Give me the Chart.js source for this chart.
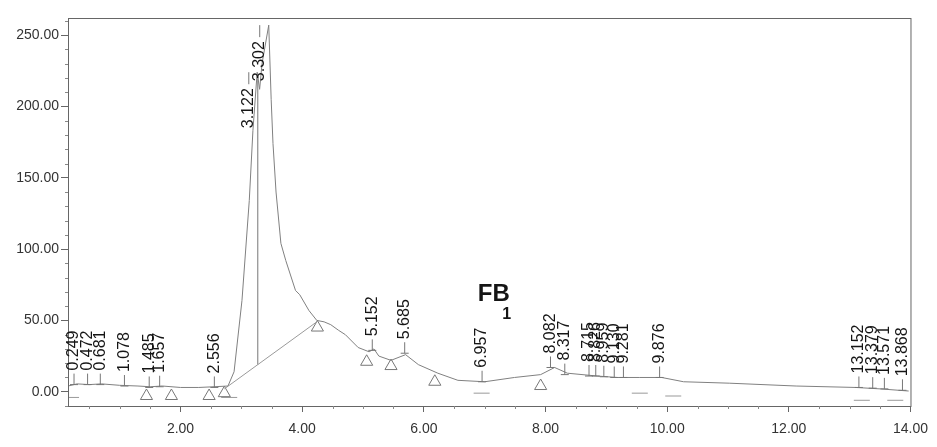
<!DOCTYPE html>
<html>
<head>
<meta charset="utf-8">
<script src="https://cdn.jsdelivr.net/npm/chart.js@4.4.1/dist/chart.umd.min.js"></script>
<style>
  body { margin: 0; background: #fff; }
  #wrap { width: 937px; height: 447px; }
</style>
</head>
<body>
<div id="wrap"><canvas id="myChart"></canvas></div>
<script>
// Chromatogram trace (minutes, signal)
var traceTime = [0.15, 0.3, 0.5, 0.7, 1.0, 1.3, 1.5, 1.7, 2.0, 2.3, 2.55, 2.78, 2.88, 3.01, 3.13, 3.19, 3.26, 3.30, 3.34, 3.45, 3.49, 3.52, 3.57, 3.65, 3.73, 3.89, 3.96, 4.11, 4.24, 4.36, 4.47, 4.60, 4.71, 4.92, 5.10, 5.18, 5.26, 5.46, 5.70, 5.91, 6.23, 6.56, 7.0, 7.49, 7.92, 8.15, 8.36, 8.85, 9.18, 9.55, 9.91, 10.27, 11.02, 12.12, 13.1, 13.5, 13.97];
var traceSignal = [4, 5.5, 5, 5.5, 4.5, 4, 3.5, 4, 3, 3, 3.5, 4, 14, 64, 134, 183, 224, 212, 230, 257, 205, 174, 140, 104, 92, 71, 68, 57, 50, 49, 47, 43, 40, 31, 28, 30, 25, 22, 26, 19, 13, 8, 7, 10, 12, 17, 13, 11, 10, 10, 10, 7, 6, 4, 3, 2, 0.5];

// Detected peaks
var peakTimes = [0.249, 0.472, 0.681, 1.078, 1.485, 1.657, 2.556, 3.122, 3.302, 5.152, 5.685, 6.957, 8.082, 8.317, 8.715, 8.826, 8.959, 9.130, 9.281, 9.876, 13.152, 13.379, 13.571, 13.868];
var peakHeights = [5, 5, 5, 4, 3, 3.5, 3, 224, 257, 29, 27, 7, 17, 12, 11, 11, 10.5, 10, 10, 10, 3, 2.5, 2, 1];

// Integration marks
var baselineTime = [2.72, 4.24];
var baselineSignal = [2, 49];
var dropTime = [3.27, 3.27];
var dropSignal = [19, 222];
var triangleTime = [1.44, 1.85, 2.47, 2.72, 4.25, 5.06, 5.46, 6.18, 7.92];
var triangleSignal = [-3, -3, -3, -1, 45, 21, 18, 7, 4];
var dashTime = [0.2, 2.8, 6.95, 9.55, 10.1, 13.2, 13.75];
var dashSignal = [-4, -4, -1, -1, -3, -6, -6];

var xTickValues = [2, 4, 6, 8, 10, 12, 14];
var yTickValues = [0, 50, 100, 150, 200, 250];

function pairs(xs, ys) {
    return xs.map(function (x, i) { return { x: x, y: ys[i] }; });
}

var FONT = '"Liberation Sans", Arial, sans-serif';

// Frame, minor ticks, peak labels
var decorations = {
    id: 'decorations',
    afterDatasetsDraw: function (chart) {
        var ctx = chart.ctx;
        var a = chart.chartArea;
        var xs = chart.scales.x, ys = chart.scales.y;
        ctx.save();
        ctx.strokeStyle = '#666';
        ctx.lineWidth = 1;
        ctx.strokeRect(a.left + 0.5, a.top + 0.5, a.right - a.left, a.bottom - a.top);

        // minor ticks
        ctx.strokeStyle = '#888';
        ctx.beginPath();
        for (var v = -10; v <= 260; v += 10) {
            if (v % 50 === 0) continue;
            var py = Math.round(ys.getPixelForValue(v)) + 0.5;
            ctx.moveTo(a.left - 3, py); ctx.lineTo(a.left, py);
        }
        for (var t = 0.5; t < 14; t += 0.5) {
            if (t % 2 === 0) continue;
            var px = Math.round(xs.getPixelForValue(t)) + 0.5;
            ctx.moveTo(px, a.bottom); ctx.lineTo(px, a.bottom + 3);
        }
        ctx.stroke();

        // peak labels: above the peak, or hanging below it when there is no room
        ctx.font = '16px ' + FONT;
        ctx.fillStyle = '#151515';
        ctx.strokeStyle = '#777';
        ctx.textBaseline = 'middle';
        ctx.textAlign = 'left';
        peakTimes.forEach(function (t, i) {
            var px = xs.getPixelForValue(t);
            var py = ys.getPixelForValue(peakHeights[i]);
            var label = t.toFixed(3);
            var w = ctx.measureText(label).width;
            var hang = py - 14 - w < a.top + 30;
            ctx.beginPath();
            if (peakHeights[i] < 60) {
                ctx.moveTo(px - 4, py); ctx.lineTo(px + 4, py);
            }
            ctx.moveTo(px, py);
            ctx.lineTo(px, hang ? py + 12 : py - 11);
            ctx.stroke();
            ctx.save();
            ctx.translate(px, hang ? py + 16 + w : py - 14);
            ctx.rotate(-Math.PI / 2);
            ctx.fillText(label, 0, 0);
            ctx.restore();
        });

        // FB annotation
        ctx.textAlign = 'center';
        ctx.font = 'bold 24px ' + FONT;
        ctx.fillText('FB', xs.getPixelForValue(7.15), ys.getPixelForValue(68.6));
        ctx.font = 'bold 16px ' + FONT;
        ctx.fillText('1', xs.getPixelForValue(7.36), ys.getPixelForValue(54));
        ctx.restore();
    }
};

var ctx = document.getElementById('myChart').getContext('2d');
var myChart = new Chart(ctx, {
    type: 'scatter',
    data: {
        datasets: [
            {
                label: 'Signal',
                data: pairs(traceTime, traceSignal),
                showLine: true,
                borderColor: '#808080',
                borderWidth: 1,
                pointRadius: 0,
                tension: 0
            },
            {
                label: 'Baseline',
                data: pairs(baselineTime, baselineSignal),
                showLine: true,
                borderColor: '#9a9a9a',
                borderWidth: 1,
                pointRadius: 0
            },
            {
                label: 'Drop',
                data: pairs(dropTime, dropSignal),
                showLine: true,
                borderColor: '#777',
                borderWidth: 1,
                pointRadius: 0
            },
            {
                label: 'Triangles',
                data: pairs(triangleTime, triangleSignal),
                pointStyle: 'triangle',
                pointRadius: 7,
                borderColor: '#777',
                borderWidth: 1,
                backgroundColor: 'rgba(0,0,0,0)'
            },
            {
                label: 'Dashes',
                data: pairs(dashTime, dashSignal),
                pointStyle: 'line',
                pointRadius: 8,
                borderColor: '#999',
                borderWidth: 1
            }
        ]
    },
    options: {
        responsive: true,
        maintainAspectRatio: false,
        animation: false,
        layout: { padding: { top: 18, right: 22, left: 0, bottom: 0 } },
        plugins: {
            legend: { display: false },
            tooltip: { enabled: false }
        },
        scales: {
            x: {
                type: 'linear',
                min: 0.15,
                max: 14,
                afterBuildTicks: function (scale) {
                    scale.ticks = xTickValues.map(function (v) { return { value: v }; });
                },
                afterFit: function (scale) { scale.height = 41; },
                grid: { drawOnChartArea: false, tickLength: 6, color: '#666' },
                border: { color: '#666' },
                ticks: {
                    padding: 9,
                    color: '#333',
                    maxRotation: 0,
                    font: { family: FONT, size: 14 },
                    callback: function (v) { return Number(v).toFixed(2); }
                }
            },
            y: {
                type: 'linear',
                min: -10,
                max: 262,
                afterBuildTicks: function (scale) {
                    scale.ticks = yTickValues.map(function (v) { return { value: v }; });
                },
                afterFit: function (scale) { scale.width = 68; },
                grid: { drawOnChartArea: false, tickLength: 7, color: '#666' },
                border: { color: '#666' },
                ticks: {
                    padding: 2,
                    color: '#333',
                    font: { family: FONT, size: 14 },
                    callback: function (v) { return Number(v).toFixed(2); }
                }
            }
        }
    },
    plugins: [decorations]
});
</script>
</body>
</html>
